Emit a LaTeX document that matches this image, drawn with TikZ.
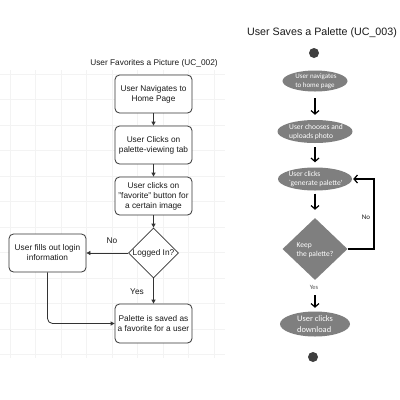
\documentclass[tikz,border=0pt]{standalone}
\usepackage{fontspec}
\setmainfont{Liberation Sans}
\newfontfamily\calfont{Carlito}
\usetikzlibrary{shapes.geometric,arrows.meta}
\definecolor{edge}{HTML}{333333}
\definecolor{ink}{HTML}{1A1A1A}
\definecolor{ovalgray}{HTML}{7F7F7F}
\definecolor{dotgray}{HTML}{3F3F3F}
\definecolor{gridc}{HTML}{F3F3F3}
\begin{document}
\begin{tikzpicture}[x=1pt,y=-1pt,
 box/.style={draw=edge,line width=0.8pt,rounded corners=4.5pt,fill=white,minimum width=77pt,minimum height=38pt,inner sep=0pt,align=center,text=ink,font=\fontsize{8.3}{10}\selectfont},
 dia/.style={draw=edge,line width=0.8pt,diamond,fill=white,minimum width=50pt,minimum height=50pt,inner sep=0pt},
 lbl/.style={text=ink,inner sep=0pt,font=\fontsize{8.3}{10}\selectfont},
 flow/.style={draw=edge,line width=0.8pt,-{Triangle[length=4pt,width=4pt]}},
 oval/.style={ellipse,fill=ovalgray,inner sep=0pt},
 ovtext/.style={text=white,align=left,inner sep=0pt,font=\calfont\fontsize{7.5}{9}\selectfont},
 rdia/.style={diamond,fill=ovalgray,minimum width=65pt,minimum height=62pt,inner sep=0pt},
 enddot/.style={circle,fill=dotgray,minimum size=10pt,inner sep=0pt},
 stick/.style={draw=black,line width=1.2pt,-{Straight Barb[length=3.5pt,width=8pt]}},
 rlbl/.style={inner sep=0pt,font=\calfont\fontsize{7}{8}\selectfont},
]
\fill[white] (0,0) rectangle (400,400);
\useasboundingbox (0,0) rectangle (400,400);
% faint background grid
\foreach \gx in {10,35.5,...,215} \draw[gridc,line width=0.5pt] (\gx,70) -- (\gx,358);
\foreach \gy in {74,99.5,...,356} \draw[gridc,line width=0.5pt] (0,\gy) -- (225,\gy);

% ---------- left diagram ----------
\node[lbl] (t1) at (154,63) {User Favorites a Picture (UC\_002)};
\node[box] (b1) at (153.5,94) {User Navigates to\\Home Page};
\node[box] (b2) at (153.5,145) {User Clicks on\\palette-viewing tab};
\node[box] (b3) at (153.5,196) {User clicks on\\"favorite" button for\\a certain image};
\node[dia] (q) at (153.5,253) {};
\node[lbl] (qt) at (q) {Logged In?};
\node[box] (login) at (47.5,253) {User fills out login\\information};
\node[box,minimum height=39pt] (fin) at (153.5,323.5) {Palette is saved as\\a favorite for a user};

\draw[flow] (b1) -- (b2);
\draw[flow] (b2) -- (b3);
\draw[flow] (b3) -- (q);
\draw[flow] (q.west) -- (login.east);
\draw[flow] (q.south) -- (fin.north);
\draw[flow,rounded corners=5pt] (login.south) |- (fin.west);
\node[lbl] (no1) at (112,241) {No};
\node[lbl] (yes1) at (137,292) {Yes};

% ---------- right diagram ----------
\node[text=ink,inner sep=0pt,font=\fontsize{10.7}{12}\selectfont] (t2) at (322,33) {User Saves a Palette (UC\_003)};
\node[enddot] (s) at (314,53) {};
\node[oval,minimum width=65pt,minimum height=21pt] (e1) at (315,81) {};
\node[ovtext,font=\calfont\fontsize{7}{8.6}\selectfont] (e1t) at (316,81) {User navigates\\to home page};
\node[oval,minimum width=75pt,minimum height=23pt] (e2) at (315,131.5) {};
\node[ovtext] (e2t) at (316,131.5) {User chooses and\\uploads photo};
\node[oval,minimum width=74pt,minimum height=23pt] (e3) at (315,179) {};
\node[ovtext] (e3t) at (315.5,179) {User clicks\\`generate palette'};
\node[rdia] (d2) at (315,249) {};
\node[ovtext] (d2t) at (315,250) {Keep\\the palette?};
\node[oval,minimum width=70pt,minimum height=25pt] (e4) at (315,324) {};
\node[ovtext,font=\calfont\fontsize{8.4}{10.5}\selectfont] (e4t) at (e4) {User clicks\\download};
\node[enddot] (f) at (313,357) {};
\coordinate (fb) at (374,213);

\draw[stick,shorten <=6.5pt,shorten >=5pt] (e1) -- (e2);
\draw[stick,shorten <=4pt,shorten >=5pt] (e2) -- (e3);
\draw[stick,shorten <=3pt,shorten >=8pt] (e3) -- (d2);
\draw[stick,shorten <=15pt,shorten >=3.5pt] (d2) -- (e4);
\draw[stick,shorten >=1pt] (d2.east) -| (fb) |- (e3.east);
\node[rlbl,text=ink] (no2) at (366,217) {No};
\node[rlbl,text=black!65,font=\calfont\fontsize{6.5}{8}\selectfont] (yes2) at (314,287) {Yes};
\end{tikzpicture}
\end{document}
